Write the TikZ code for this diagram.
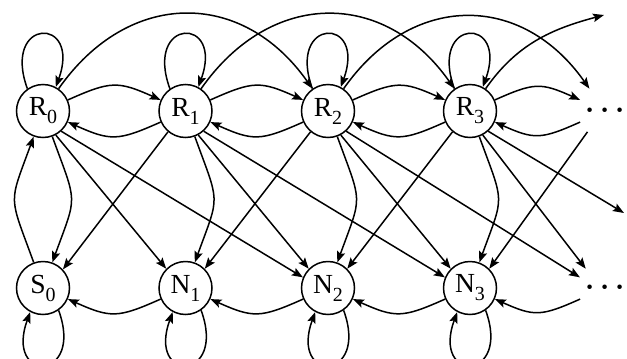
\documentclass[tikz,border=0pt]{standalone}
\usepackage{fontspec}
\setmainfont{Liberation Serif}
\usetikzlibrary{arrows.meta}
\newcommand{\sublab}[2]{#1\raisebox{-4pt}{\fontsize{10}{10}\selectfont #2}}
\begin{document}
\begin{tikzpicture}[x=0.5pt,y=0.5pt,
  stnode/.style={circle,draw,line width=0.75pt,minimum size=26.5pt,inner sep=0pt,font=\fontsize{13.8}{15}\selectfont},
  ghostnode/.style={stnode,draw=none,font=\fontsize{13.8}{15}\selectfont\boldmath},
  arr/.style={line width=0.75pt,-{Stealth[length=5.5pt,width=4.2pt,inset=1pt]}},
  selfup/.style={out=110,in=70,distance=38pt},
  selfdown/.style={out=290,in=250,distance=38pt},
  sidebend/.style={bend left=24,looseness=1.3},
  vertbend/.style={bend left=20,looseness=1.5},
  arcskip/.style={out=55,in=125,looseness=1.23}]
\useasboundingbox (0,0) rectangle (627,-359);
\clip (0,0) rectangle (627,-359);
% nodes
\node[stnode] (R0) at (43,-111) {\sublab{R}{0}};
\node[stnode] (R1) at (185.5,-111) {\sublab{R}{1}};
\node[stnode] (R2) at (328,-111) {\sublab{R}{2}};
\node[stnode] (R3) at (470,-111) {\sublab{R}{3}};
\node[ghostnode] (R4) at (605,-111) {$\cdots$};
\node[stnode] (S0) at (43,-288) {\sublab{S}{0}};
\node[stnode] (N1) at (185.5,-288) {\sublab{N}{1}};
\node[stnode] (N2) at (328,-288) {\sublab{N}{2}};
\node[stnode] (N3) at (470,-288) {\sublab{N}{3}};
\node[ghostnode] (N4) at (605,-288) {$\cdots$};
\coordinate (R5) at (604,-15);
\coordinate (N5) at (624,-213);
% self loops
\foreach \n in {R0,R1,R2,R3} \draw[arr] (\n.125) to[selfup] (\n.62);
\foreach \n in {S0,N1,N2,N3} \draw[arr] (\n.305) to[selfdown] (\n.242);
% neighbours in the top row
\draw[arr] (R0) to[sidebend] (R1);
\draw[arr] (R1) to[sidebend] (R0);
\draw[arr] (R1) to[sidebend] (R2);
\draw[arr] (R2) to[sidebend] (R1);
\draw[arr] (R2) to[sidebend] (R3);
\draw[arr] (R3) to[sidebend] (R2);
\draw[arr] (R3) to[sidebend] (R4);
\draw[arr] (R4) to[sidebend] (R3);
% bottom row
\draw[arr] (N1) to[sidebend] (S0);
\draw[arr] (N2) to[sidebend] (N1);
\draw[arr] (N3) to[sidebend] (N2);
\draw[arr] (N4) to[sidebend] (N3);
% vertical
\draw[arr] (R0) to[vertbend] (S0);
\draw[arr] (S0) to[vertbend] (R0);
\draw[arr] (R1) to[vertbend] (N1);
\draw[arr] (R2) to[vertbend] (N2);
\draw[arr] (R3) to[vertbend] (N3);
% skip arcs
\draw[arr] (R0) to[arcskip] (R2);
\draw[arr] (R1) to[arcskip] (R3);
\draw[arr] (R2) to[arcskip] (R4);
\draw[arr] (R3) to[out=55,in=195] (R5);
% diagonals
\draw[arr] (R0.-62) -- (N1.135);
\draw[arr] (R1.-62) -- (N2.135);
\draw[arr] (R2.-62) -- (N3.135);
\draw[arr] (R3.-62) -- (N4.135);
\draw[arr] (R0.-48) -- (N2.157);
\draw[arr] (R1.-48) -- (N3.157);
\draw[arr] (R2.-48) -- (N4.157);
\draw[arr] (R3.-48) -- (N5);
\draw[arr] (R1.-130) -- (S0.43);
\draw[arr] (R2.-130) -- (N1.45);
\draw[arr] (R3.-130) -- (N2.45);
\draw[arr] (R4.-130) -- (N3.45);
\end{tikzpicture}
\end{document}
